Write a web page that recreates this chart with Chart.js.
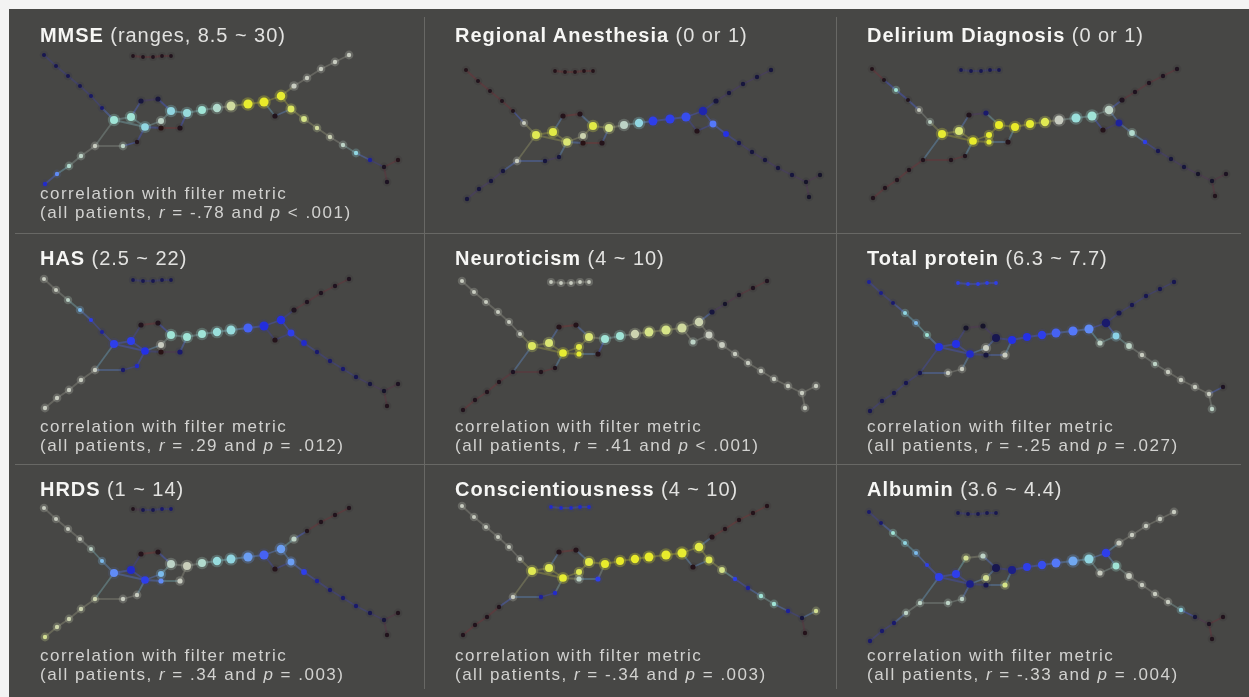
<!DOCTYPE html>
<html>
<head>
<meta charset="utf-8">
<script src="https://cdn.jsdelivr.net/npm/chart.js@4.4.1/dist/chart.umd.min.js"></script>
<style>
  html, body { margin:0; padding:0; background:#f3f3f3; width:1249px; height:697px; overflow:hidden; }
  #wrap { position:absolute; left:9px; top:9px; width:1240px; height:688px; background:#474745; }
  .panel { position:absolute; }
  .panel canvas { position:absolute; left:0; top:0; filter: blur(0.55px); }
  .title { position:absolute; white-space:nowrap; font-family:"Liberation Sans", Arial, sans-serif; font-size:20px; line-height:24px; color:#e2e2e0; letter-spacing:0.95px; }
  .title b { color:#f6f6f4; font-weight:bold; }
  .cap { position:absolute; white-space:nowrap; font-family:"Liberation Sans", Arial, sans-serif; font-size:17px; line-height:19px; color:#d2d2d0; letter-spacing:1.5px; }
  .vline { position:absolute; width:1px; background:#686865; }
  .hline { position:absolute; height:1px; background:#686865; }
</style>
</head>
<body>
<div id="wrap"></div>
<script>
// ---------------- DATA ----------------
const panelNames  = ["MMSE", "Regional Anesthesia", "Delirium Diagnosis", "HAS", "Neuroticism", "Total protein", "HRDS", "Conscientiousness", "Albumin"];
const panelRanges = ["(ranges, 8.5 ~ 30)", "(0 or 1)", "(0 or 1)", "(2.5 ~ 22)", "(4 ~ 10)", "(6.3 ~ 7.7)", "(1 ~ 14)", "(4 ~ 10)", "(3.6 ~ 4.4)"];
const corrR   = ["-.78", null, null, ".29", ".41", "-.25", ".34", "-.34", "-.33"];
const corrRel = ["<", null, null, "=", "<", "=", "=", "=", "="];
const corrP   = [".001", null, null, ".012", ".001", ".027", ".003", ".003", ".004"];

// Mapper graph layout (graph units), shared by all panels
const nodeX = [42,54,66,78,89,100, 131,141,151,160,169,
  112,129,143,139,156,159,159,178,169,185,200,215,229,246,262,279,273,289,
  292,305,319,333,347,
  302,315,328,341,354,368,382,396,385,
  93,79,67,55,43,121,135];
const nodeY = [61,72,82,92,102,114, 62,63,63,62,62,
  126,123,133,107,105,127,134,134,117,119,116,114,112,110,108,102,122,115,
  92,84,75,68,61,
  125,134,143,151,159,166,173,166,188,
  152,162,172,180,190,152,148];
// relative node size (number of members)
const nodeWeight = [0.6,0.6,0.6,0.6,0.6,0.6, 0.5,0.5,0.5,0.5,0.5,
  2.0,2.0,1.9,1.0,1.0,1.3,1.0,1.0,2.0,2.0,2.0,2.1,2.3,2.4,2.4,2.2,1.0,1.6,
  1.0,0.7,0.7,0.7,0.7,
  1.2,0.7,0.7,0.7,0.7,0.7,0.7,0.7,0.7,
  0.7,0.7,0.7,0.7,0.7,0.7,0.7];
const edgesFrom = [0,1,2,3,4,5, 6,7,8,9, 11,12,11,12,14,15,13,16,17,18,13,19,20,21,22,23,24,25,26,25,27,26,28, 29,30,31,32, 34,35,36,37,38,39,40,40, 43,44,45,46,43,43,48,49];
const edgesTo   = [1,2,3,4,5,11, 7,8,9,10, 12,13,13,14,15,19,16,19,18,20,17,20,21,22,23,24,25,26,28,27,28,29,34, 30,31,32,33, 35,36,37,38,39,40,41,42, 44,45,46,47,11,48,49,13];

// node colour values (0 = lowest, 1 = highest) per panel
const valsMMSE = [0.12,0.12,0.12,0.12,0.14,0.15, 0.03,0.03,0.03,0.03,0.03,
  0.55,0.55,0.5,0.1,0.1,0.6,0.0,0.03,0.5,0.52,0.55,0.58,0.68,0.86,0.9,0.85,0.03,0.78,
  0.62,0.62,0.62,0.62,0.62,
  0.72,0.68,0.64,0.6,0.5,0.2,0.05,0.02,0.05,
  0.62,0.6,0.58,0.4,0.25,0.6,0.03];
const valsRegional = [0.02,0.03,0.03,0.03,0.03,0.62, 0.02,0.02,0.02,0.02,0.02,
  0.8,0.82,0.75,0.02,0.02,0.65,0.0,0.02,0.82,0.72,0.6,0.5,0.3,0.3,0.32,0.22,0.02,0.38,
  0.1,0.1,0.1,0.1,0.1,
  0.28,0.12,0.1,0.1,0.1,0.1,0.08,0.08,0.08,
  0.62,0.1,0.1,0.1,0.1,0.1,0.1];
const valsDelirium = [0.02,0.03,0.55,0.03,0.62,0.6, 0.12,0.12,0.12,0.12,0.12,
  0.85,0.75,0.88,0.03,0.15,0.85,0.85,0.02,0.9,0.9,0.85,0.8,0.62,0.53,0.55,0.6,0.02,0.2,
  0.04,0.04,0.04,0.04,0.04,
  0.58,0.3,0.12,0.1,0.1,0.08,0.08,0.05,0.03,
  0.03,0.03,0.03,0.03,0.03,0.03,0.03];
const valsHAS = [0.62,0.62,0.6,0.45,0.3,0.2, 0.12,0.12,0.12,0.12,0.12,
  0.3,0.3,0.28,0.03,0.03,0.62,0.0,0.15,0.55,0.55,0.55,0.53,0.52,0.35,0.27,0.28,0.02,0.3,
  0.04,0.04,0.04,0.04,0.04,
  0.25,0.15,0.15,0.15,0.12,0.1,0.08,0.05,0.03,
  0.62,0.62,0.62,0.62,0.62,0.15,0.25];
const valsNeuroticism = [0.62,0.62,0.62,0.62,0.62,0.62, 0.62,0.62,0.62,0.62,0.62,
  0.78,0.75,0.85,0.02,0.02,0.82,0.85,0.02,0.75,0.55,0.55,0.65,0.72,0.72,0.68,0.65,0.6,0.62,
  0.1,0.08,0.06,0.04,0.04,
  0.62,0.62,0.62,0.62,0.62,0.62,0.62,0.62,0.62,
  0.05,0.03,0.03,0.03,0.03,0.03,0.03];
const valsProtein = [0.2,0.18,0.15,0.5,0.45,0.55, 0.3,0.3,0.3,0.3,0.3,
  0.28,0.28,0.25,0.08,0.08,0.62,0.1,0.62,0.12,0.28,0.28,0.3,0.35,0.38,0.4,0.15,0.6,0.48,
  0.12,0.12,0.12,0.12,0.12,
  0.6,0.62,0.6,0.62,0.62,0.62,0.62,0.05,0.6,
  0.12,0.12,0.12,0.12,0.12,0.62,0.62];
const valsHRDS = [0.62,0.62,0.62,0.62,0.6,0.45, 0.03,0.12,0.12,0.15,0.15,
  0.4,0.25,0.3,0.02,0.02,0.45,0.4,0.62,0.6,0.63,0.58,0.52,0.5,0.42,0.35,0.42,0.02,0.42,
  0.6,0.03,0.03,0.03,0.03,
  0.3,0.2,0.15,0.15,0.15,0.12,0.1,0.03,0.03,
  0.65,0.65,0.65,0.66,0.7,0.62,0.62];
const valsConscientiousness = [0.62,0.62,0.62,0.62,0.62,0.62, 0.25,0.25,0.25,0.25,0.25,
  0.8,0.8,0.85,0.02,0.02,0.8,0.6,0.3,0.82,0.88,0.9,0.9,0.88,0.88,0.85,0.82,0.02,0.8,
  0.02,0.02,0.02,0.02,0.02,
  0.72,0.3,0.2,0.55,0.55,0.2,0.1,0.7,0.02,
  0.62,0.03,0.03,0.03,0.03,0.2,0.25];
const valsAlbumin = [0.15,0.15,0.55,0.5,0.45,0.3, 0.12,0.12,0.12,0.12,0.12,
  0.3,0.3,0.18,0.7,0.6,0.7,0.12,0.72,0.12,0.18,0.3,0.32,0.38,0.43,0.5,0.3,0.62,0.55,
  0.62,0.62,0.62,0.62,0.62,
  0.62,0.62,0.62,0.62,0.5,0.1,0.05,0.03,0.03,
  0.6,0.6,0.15,0.15,0.15,0.6,0.6];
const panelValues = [valsMMSE, valsRegional, valsDelirium, valsHAS, valsNeuroticism, valsProtein, valsHRDS, valsConscientiousness, valsAlbumin];

// ---------------- LAYOUT / STYLE ----------------
const colLeft = [0, 415, 827];         // relative to #wrap
const colWidth = [415, 412, 413];
const rowTop = [0, 225, 456];
const rowHeight = [224, 230, 232];
// graph shift per panel (axis window offset)
const shiftX = [-7, 0, -6, -7, -4, -9, -7, -4, -9];
const shiftY = [-15, 0, -1, -16, -14, -13, -18, -20, -14];

const nodeStops = [
  [0.00, [40,18,20]], [0.08, [22,20,42]], [0.15, [26,26,108]], [0.28, [36,48,230]],
  [0.38, [84,120,250]], [0.47, [136,206,232]], [0.55, [160,228,214]], [0.62, [200,204,192]],
  [0.72, [214,228,136]], [0.85, [230,236,50]], [1.00, [240,232,22]]];
const edgeStops = [
  [0.00, [140,48,46]], [0.06, [96,44,64]], [0.12, [62,62,150]], [0.30, [72,92,230]],
  [0.50, [120,190,200]], [0.62, [150,150,140]], [0.85, [170,170,60]], [1.00, [170,160,40]]];

function cmap(stops, v) {
  if (v <= stops[0][0]) return stops[0][1];
  for (let i = 1; i < stops.length; i++) {
    if (v <= stops[i][0]) {
      const [a, ca] = stops[i-1], [b, cb] = stops[i];
      const t = (v - a) / (b - a);
      return ca.map((c, k) => Math.round(c + (cb[k] - c) * t));
    }
  }
  return stops[stops.length-1][1];
}
const rgba = (c, a) => `rgba(${c[0]},${c[1]},${c[2]},${a})`;

const wrap = document.getElementById('wrap');

// dividers
[415, 827].forEach(x => {
  const d = document.createElement('div'); d.className = 'vline';
  d.style.left = x + 'px'; d.style.top = '8px'; d.style.height = '672px'; wrap.appendChild(d);
});
[224, 455].forEach(y => {
  const d = document.createElement('div'); d.className = 'hline';
  d.style.top = y + 'px'; d.style.left = '6px'; d.style.width = '1226px'; wrap.appendChild(d);
});

panelNames.forEach((name, p) => {
  const col = p % 3, row = Math.floor(p / 3);
  const W = colWidth[col], H = rowHeight[row];
  const panel = document.createElement('div');
  panel.className = 'panel';
  panel.style.left = colLeft[col] + 'px';
  panel.style.top = rowTop[row] + 'px';
  panel.style.width = W + 'px';
  panel.style.height = H + 'px';
  const canvas = document.createElement('canvas');
  panel.appendChild(canvas);
  wrap.appendChild(panel);

  const vals = panelValues[p];
  const pts = nodeX.map((x, i) => ({x: x, y: nodeY[i]}));
  const radii = nodeWeight.map(w => 1.2 + 1.4 * w);

  const datasets = [];
  // nodes
  datasets.push({
    data: pts, order: 0,
    pointRadius: radii, pointHoverRadius: radii,
    pointBackgroundColor: vals.map(v => rgba(cmap(nodeStops, v), 1)),
    pointBorderWidth: 0, showLine: false
  });
  // halo
  datasets.push({
    data: pts, order: 1,
    pointRadius: radii.map(r => r + 2.2), pointHoverRadius: radii.map(r => r + 2.2),
    pointBackgroundColor: vals.map(v => rgba(cmap(nodeStops, v), v > 0.4 ? 0.25 : 0.1)),
    pointBorderWidth: 0, showLine: false
  });
  // edges
  edgesFrom.forEach((a, k) => {
    const b = edgesTo[k];
    const v = (vals[a] + vals[b]) / 2;
    datasets.push({
      data: [pts[a], pts[b]], order: 2, showLine: true,
      borderColor: rgba(cmap(edgeStops, v), 0.38), borderWidth: 1.8,
      pointRadius: 0, pointHoverRadius: 0
    });
  });

  new Chart(canvas, {
    type: 'scatter',
    data: { datasets },
    options: {
      animation: false, responsive: true, maintainAspectRatio: false,
      layout: { padding: 0, autoPadding: false },
      events: [],
      plugins: { legend: { display: false }, tooltip: { enabled: false } },
      scales: {
        x: { type: 'linear', display: false, min: -shiftX[p], max: W - shiftX[p] },
        y: { type: 'linear', display: false, reverse: true, min: -shiftY[p], max: H - shiftY[p] }
      }
    }
  });

  const t = document.createElement('div');
  t.className = 'title';
  t.style.left = '31px'; t.style.top = (row === 0 ? 14 : 12) + 'px';
  t.innerHTML = '<b>' + name + '</b> ' + panelRanges[p];
  panel.appendChild(t);

  if (corrR[p] !== null) {
    const c = document.createElement('div');
    c.className = 'cap';
    c.style.left = '31px'; c.style.top = (row === 0 ? 175 : (row === 1 ? 183 : 181)) + 'px';
    c.innerHTML = 'correlation with filter metric<br>(all patients, <i>r</i> = ' + corrR[p] +
      ' and <i>p</i> ' + corrRel[p] + ' ' + corrP[p] + ')';
    panel.appendChild(c);
  }
});
</script>
</body>
</html>
